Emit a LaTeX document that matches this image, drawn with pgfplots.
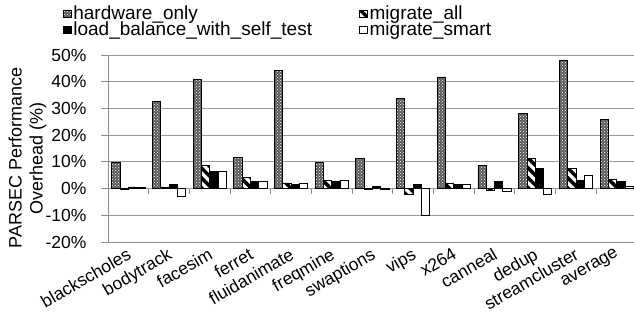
\documentclass[border=0pt]{standalone}
\usepackage{fontspec}
\setmainfont{Liberation Sans}
\usepackage{pgfplots}
\pgfplotsset{compat=1.18}
\usetikzlibrary{patterns,patterns.meta}

\pgfplotstableread{
x hw ma lb ms
0 9.8 -0.4 0.6 0.6
1 32.6 0.6 1.6 -2.9
2 40.7 8.6 6.5 6.5
3 11.5 4.0 2.5 2.6
4 44.3 2.1 1.7 2.1
5 9.8 3.1 2.5 3.1
6 11.2 -0.4 0.7 -0.4
7 33.6 -2.2 1.4 -10.2
8 41.8 2.1 1.6 1.6
9 8.6 -0.5 2.7 -1.2
10 28.1 11.2 7.7 -2.2
11 47.8 7.7 3.1 4.9
12 25.8 3.4 2.6 0.8
}\data

\newcommand{\chartfont}{\fontsize{17.5}{20}\selectfont}

\begin{document}
\begin{tikzpicture}
\begin{axis}[
  scale only axis, width=529pt, height=187pt,
  at={(0,0)}, anchor=south west,
  xmin=-0.5, xmax=12.5, ymin=-20, ymax=50,
  ybar=0pt, bar width=0.204,
  ytick={-20,-10,...,50},
  yticklabels={-20\%,-10\%,0\%,10\%,20\%,30\%,40\%,50\%},
  xtick={0,...,12},
  xticklabels={blackscholes,bodytrack,facesim,ferret,fluidanimate,freqmine,swaptions,vips,x264,canneal,dedup,streamcluster,average},
  x tick label style={rotate=30, anchor=north east, inner sep=1pt, yshift=4pt},
  y tick label style={xshift=-11pt},
  axis lines*=left,
  axis line style={black!45, line width=0.9pt},
  ymajorgrids, grid style={black!40, line width=0.9pt},
  xtick style={draw=none},
  ytick style={black!45, line width=0.9pt},
  tick align=outside, major tick length=7pt,
  tick label style={font=\chartfont},
  ylabel={PARSEC Performance\\Overhead (\%)},
  ylabel style={font=\fontsize{18}{21}\selectfont, align=center, at={(axis description cs:-0.152,0.449)}, anchor=center},
  legend columns=2,
  legend cell align=left,
  legend style={at={(axis description cs:-0.091,1.285)}, anchor=north west, draw=none, fill=none, font=\fontsize{19}{21}\selectfont, row sep=-3pt},
  legend image code/.code={\draw[#1] (0pt,-3.5pt) rectangle (7.5pt,3.5pt);},
  every axis plot/.append style={draw=black, line width=0.8pt},
]
\addplot[fill=black!65, postaction={pattern=crosshatch dots, pattern color=white}] table[x=x,y=hw]{\data};
\addplot[fill=white, postaction={pattern={Lines[angle=-45,distance=7pt,line width=3.5pt]}, pattern color=black}] table[x=x,y=ma]{\data};
\addplot[fill=black] table[x=x,y=lb]{\data};
\addplot[fill=white] table[x=x,y=ms]{\data};
\legend{\makebox[284pt][l]{hardware\_only},migrate\_all,\makebox[284pt][l]{load\_balance\_with\_self\_test},migrate\_smart}
\pgfplotsinvokeforeach{0.5,1.5,2.5,3.5,4.5,5.5,6.5,7.5,8.5,9.5,10.5,11.5}{
  \draw[black!45, line width=0.9pt] (axis cs:#1,0) -- ++(0pt,-5pt);
}
\end{axis}
\pgfresetboundingbox
\path (-108pt,-71pt) rectangle (526pt,242pt);
\end{tikzpicture}
\end{document}
